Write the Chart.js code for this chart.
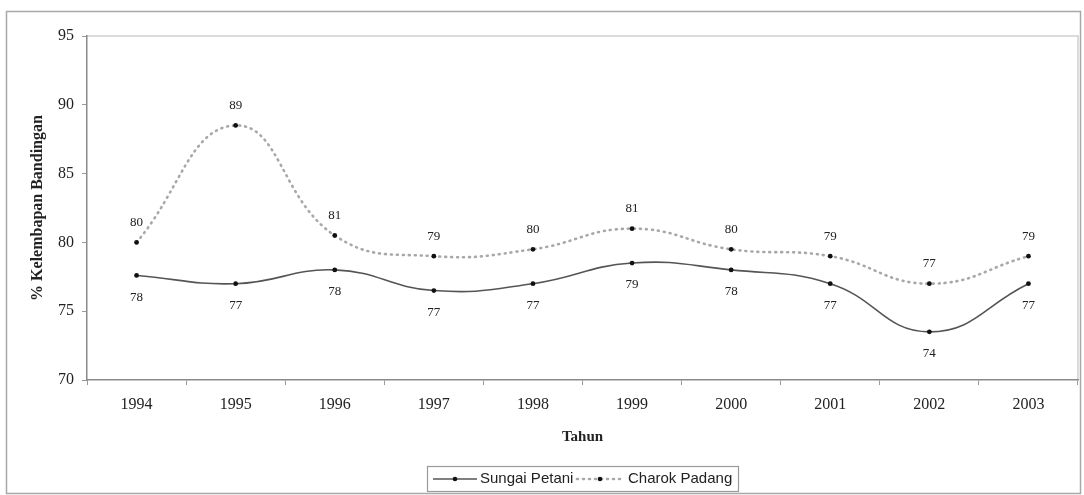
<!DOCTYPE html>
<html>
<head>
<meta charset="utf-8">
<script src="https://cdn.jsdelivr.net/npm/chart.js@4/dist/chart.umd.min.js"></script>
<style>
  html, body { margin: 0; padding: 0; background: #ffffff; }
  #wrap { width: 1084px; height: 495px; position: relative; }
</style>
</head>
<body>
<div id="wrap"><canvas id="c" width="1084" height="495"></canvas></div>
<script>
// Relative humidity by year for two stations
const years = ['1994', '1995', '1996', '1997', '1998', '1999', '2000', '2001', '2002', '2003'];
const sungaiPetani = [77.6, 77.0, 78.0, 76.5, 77.0, 78.5, 78.0, 77.0, 73.5, 77.0];
const charokPadang = [80.0, 88.5, 80.5, 79.0, 79.5, 81.0, 79.5, 79.0, 77.0, 79.0];
const yTicks = [70, 75, 80, 85, 90, 95];

const SERIF = '"Liberation Serif", "DejaVu Serif", serif';
const NARROW = '"Liberation Sans Narrow", "Liberation Sans", Arial, sans-serif';

// Outer frame, plot border and value labels
const decor = {
  id: 'decor',
  beforeDraw(chart) {
    const ctx = chart.ctx;
    const a = chart.chartArea;
    ctx.save();
    ctx.fillStyle = '#ffffff';
    ctx.fillRect(0, 0, chart.width, chart.height);
    ctx.strokeStyle = '#a8a8a8';
    ctx.lineWidth = 1.5;
    ctx.strokeRect(6.5, 11.5, 1074, 482);
    ctx.strokeStyle = '#d0d0d0';
    ctx.lineWidth = 1.5;
    ctx.beginPath();
    ctx.moveTo(a.left, a.top);
    ctx.lineTo(a.right, a.top);
    ctx.lineTo(a.right, a.bottom);
    ctx.stroke();
    ctx.restore();
  },
  afterDatasetsDraw(chart) {
    const ctx = chart.ctx;
    ctx.save();
    ctx.font = '13px ' + SERIF;
    ctx.fillStyle = '#222';
    ctx.textAlign = 'center';
    ctx.textBaseline = 'middle';
    chart.data.datasets.forEach((ds, i) => {
      const meta = chart.getDatasetMeta(i);
      meta.data.forEach((pt, j) => {
        const txt = String(Math.round(ds.data[j]));
        const dy = ds.labelPos === 'above' ? -20 : 22;
        ctx.fillText(txt, pt.x, pt.y + dy);
      });
    });
    ctx.restore();
  },
  afterDraw(chart) {
    // legend box with line samples
    const ctx = chart.ctx;
    const ds = chart.data.datasets;
    const bx = 427, by = 466, bw = 311, bh = 25;
    const cy = by + bh / 2 + 0.5;
    ctx.save();
    ctx.strokeStyle = '#9a9a9a';
    ctx.lineWidth = 1.2;
    ctx.strokeRect(bx + 0.5, by + 0.5, bw, bh);
    ctx.font = '15px ' + NARROW;
    ctx.textBaseline = 'middle';
    ctx.textAlign = 'left';
    ctx.fillStyle = '#222';
    // first series sample
    ctx.strokeStyle = ds[0].borderColor;
    ctx.lineWidth = ds[0].borderWidth;
    ctx.setLineDash([]);
    ctx.beginPath(); ctx.moveTo(433, cy); ctx.lineTo(477, cy); ctx.stroke();
    ctx.beginPath(); ctx.arc(455, cy, 2.3, 0, Math.PI * 2); ctx.fillStyle = '#111'; ctx.fill();
    ctx.fillStyle = '#222';
    ctx.fillText(ds[0].label, 480, cy);
    // second series sample
    ctx.strokeStyle = ds[1].borderColor;
    ctx.lineWidth = ds[1].borderWidth;
    ctx.setLineDash(ds[1].borderDash);
    ctx.lineCap = 'round';
    ctx.beginPath(); ctx.moveTo(577, cy); ctx.lineTo(625, cy); ctx.stroke();
    ctx.setLineDash([]);
    ctx.beginPath(); ctx.arc(600, cy, 2.3, 0, Math.PI * 2); ctx.fillStyle = '#111'; ctx.fill();
    ctx.fillStyle = '#222';
    ctx.fillText(ds[1].label, 628, cy);
    ctx.restore();
  }
};

new Chart(document.getElementById('c'), {
  type: 'line',
  data: {
    labels: years,
    datasets: [
      {
        label: 'Sungai Petani',
        data: sungaiPetani,
        labelPos: 'below',
        borderColor: '#555555',
        borderWidth: 1.6,
        tension: 0.45,
        pointRadius: 2.4,
        pointBackgroundColor: '#111',
        pointBorderColor: '#111',
        pointBorderWidth: 0,
        fill: false
      },
      {
        label: 'Charok Padang',
        data: charokPadang,
        labelPos: 'above',
        borderColor: '#a8a8a8',
        borderWidth: 2.6,
        borderDash: [1, 5],
        borderCapStyle: 'round',
        tension: 0.45,
        pointRadius: 2.4,
        pointBackgroundColor: '#111',
        pointBorderColor: '#111',
        pointBorderWidth: 0,
        fill: false
      }
    ]
  },
  options: {
    responsive: false,
    animation: false,
    layout: { padding: { top: 36, right: 6, left: 0, bottom: 0 } },
    plugins: {
      legend: { display: false },
      tooltip: { enabled: false }
    },
    scales: {
      x: {
        offset: true,
        grid: {
          offset: true,
          drawOnChartArea: false,
          drawTicks: true,
          tickLength: 5,
          color: '#9a9a9a'
        },
        border: { color: '#8a8a8a', width: 1.5 },
        ticks: {
          font: { family: SERIF, size: 16 },
          color: '#222',
          padding: 10,
          maxRotation: 0
        },
        title: {
          display: true,
          text: 'Tahun',
          font: { family: SERIF, size: 15, weight: 'bold' },
          color: '#222',
          padding: { top: 0, bottom: 49 }
        },
        afterFit(scale) { scale.height = 115; }
      },
      y: {
        min: 70,
        max: 95,
        afterBuildTicks(scale) { scale.ticks = yTicks.map(v => ({ value: v })); },
        grid: {
          drawOnChartArea: false,
          drawTicks: true,
          tickLength: 5,
          color: '#9a9a9a'
        },
        border: { color: '#8a8a8a', width: 1.5 },
        ticks: {
          font: { family: SERIF, size: 16 },
          color: '#222',
          padding: 8
        },
        title: {
          display: true,
          text: '% Kelembapan Bandingan',
          font: { family: SERIF, size: 16, weight: 'bold' },
          color: '#222',
          padding: { top: 28, bottom: 0 }
        },
        afterFit(scale) { scale.width = 87; }
      }
    }
  },
  plugins: [decor]
});
</script>
</body>
</html>
